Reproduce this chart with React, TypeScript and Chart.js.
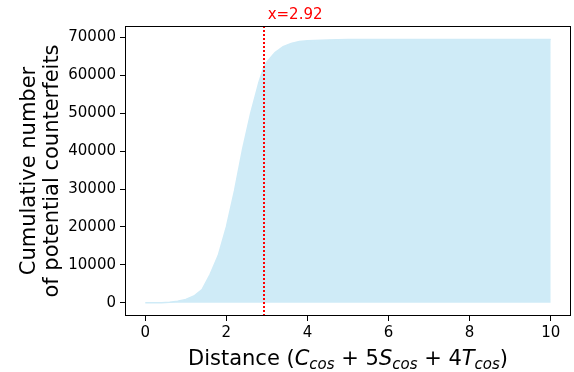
import React, { useEffect, useRef } from 'react';
import { Chart, registerables } from 'chart.js';

Chart.register(...registerables);

const distances = [0, 0.2, 0.4, 0.6, 0.8, 1.0, 1.2, 1.4, 1.6, 1.8, 2.0, 2.2, 2.4, 2.6, 2.8, 2.92, 3.0, 3.2, 3.4, 3.6, 3.8, 4.0, 4.5, 5.0, 6.0, 7.0, 8.0, 9.0, 10.0];
const counts = [0, 0, 50, 150, 400, 900, 1800, 3500, 7500, 12500, 20000, 29500, 40500, 50000, 58000, 62000, 63500, 66000, 67500, 68400, 68900, 69100, 69300, 69400, 69400, 69400, 69400, 69400, 69400];
const thresholdX = 2.92;
const thresholdLabel = 'x=2.92';
const xTicks = [0, 2, 4, 6, 8, 10];
const yTicks = [0, 10000, 20000, 30000, 40000, 50000, 60000, 70000];
const yTitleLines = ['Cumulative number', 'of potential counterfeits'];
const xTitleParts: { t: string; italic?: boolean; sub?: boolean }[] = [
  { t: 'Distance (' },
  { t: 'C', italic: true },
  { t: 'cos', italic: true, sub: true },
  { t: ' + 5' },
  { t: 'S', italic: true },
  { t: 'cos', italic: true, sub: true },
  { t: ' + 4' },
  { t: 'T', italic: true },
  { t: 'cos', italic: true, sub: true },
  { t: ')' },
];

const FONT = '"DejaVu Sans", sans-serif';

export default function App() {
  const ref = useRef<HTMLCanvasElement>(null);
  useEffect(() => {
    document.body.style.margin = '0';
    const canvas = ref.current!;
    const overlay = {
      id: 'overlay',
      afterDatasetsDraw(chart: any) {
        const { ctx, chartArea: a, scales } = chart;
        const px = scales.x.getPixelForValue(thresholdX);
        ctx.save();
        // threshold line
        ctx.strokeStyle = '#ff0000';
        ctx.lineWidth = 2;
        ctx.setLineDash([2, 2]);
        ctx.beginPath();
        ctx.moveTo(Math.round(px), a.top);
        ctx.lineTo(Math.round(px), a.bottom);
        ctx.stroke();
        ctx.setLineDash([]);
        // frame
        ctx.strokeStyle = '#000';
        ctx.lineWidth = 1;
        ctx.strokeRect(a.left + 0.5, a.top + 0.5, a.width - 1, a.height - 1);
        // threshold label
        ctx.fillStyle = '#ff0000';
        ctx.font = `15px ${FONT}`;
        ctx.textAlign = 'left';
        ctx.textBaseline = 'alphabetic';
        ctx.fillText(thresholdLabel, px + 4, a.top - 7);
        // y title
        ctx.fillStyle = '#000';
        ctx.font = `21px ${FONT}`;
        ctx.textAlign = 'center';
        const cy = (a.top + a.bottom) / 2;
        ctx.save();
        ctx.translate(0, cy);
        ctx.rotate(-Math.PI / 2);
        ctx.textBaseline = 'alphabetic';
        ctx.fillText(yTitleLines[0], 0, 34.5);
        ctx.fillText(yTitleLines[1], 0, 57.5);
        ctx.restore();
        // x title
        const size = 21;
        const subSize = 15;
        const fontFor = (p: any) => `${p.italic ? 'oblique ' : ''}${p.sub ? subSize : size}px ${FONT}`;
        let total = 0;
        const widths = xTitleParts.map((p) => {
          ctx.font = fontFor(p);
          const w = ctx.measureText(p.t).width;
          total += w;
          return w;
        });
        let x = (a.left + a.right) / 2 - total / 2;
        const base = 365;
        ctx.textAlign = 'left';
        xTitleParts.forEach((p, i) => {
          ctx.font = fontFor(p);
          ctx.fillText(p.t, x, p.sub ? base + 4 : base);
          x += widths[i];
        });
        ctx.restore();
      },
    };
    const chart = new Chart(canvas, {
      type: 'line',
      data: {
        datasets: [
          {
            data: distances.map((d, i) => ({ x: d, y: counts[i] })),
            fill: 'origin',
            backgroundColor: 'rgba(135,206,235,0.4)',
            borderWidth: 1.5,
            borderColor: 'rgb(207,235,247)',
            pointRadius: 0,
            tension: 0,
          },
        ],
      },
      options: {
        animation: false,
        responsive: false,
        devicePixelRatio: 1,
        layout: { padding: { top: 26, right: 3, left: 0, bottom: 0 } },
        plugins: { legend: { display: false }, tooltip: { enabled: false } },
        scales: {
          x: {
            type: 'linear',
            min: -0.5,
            max: 10.5,
            afterBuildTicks: (s: any) => {
              s.ticks = xTicks.map((v) => ({ value: v }));
            },
            afterFit: (s: any) => {
              s.height = 56;
            },
            grid: { drawOnChartArea: false, drawTicks: true, tickLength: 5, color: '#000' },
            border: { display: false },
            ticks: {
              color: '#000',
              font: { family: FONT, size: 15 },
              padding: 3,
              maxRotation: 0,
              callback: (v: any) => String(v),
            },
          },
          y: {
            type: 'linear',
            min: -3475,
            max: 72975,
            afterBuildTicks: (s: any) => {
              s.ticks = yTicks.map((v) => ({ value: v }));
            },
            afterFit: (s: any) => {
              s.width = 125;
            },
            grid: { drawOnChartArea: false, drawTicks: true, tickLength: 5, color: '#000' },
            border: { display: false },
            ticks: {
              color: '#000',
              font: { family: FONT, size: 15 },
              padding: 4,
              callback: (v: any) => String(v),
            },
          },
        },
      },
      plugins: [overlay],
    });
    return () => chart.destroy();
  }, []);
  return (
    <div style={{ width: 574, height: 372 }}>
      <canvas ref={ref} width={574} height={372} />
    </div>
  );
}
